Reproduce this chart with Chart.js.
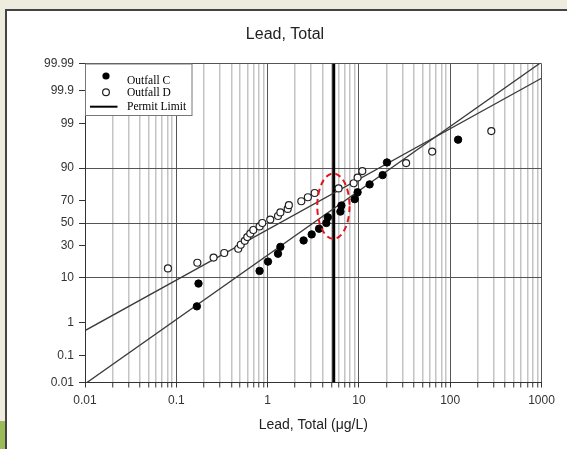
<!DOCTYPE html>
<html>
<head>
<meta charset="utf-8">
<script src="https://cdn.jsdelivr.net/npm/chart.js@4/dist/chart.umd.min.js"></script>
<style>
  html, body { margin: 0; padding: 0; background: #EEEBDF; width: 567px; height: 449px; overflow: hidden; }
  #panel { position: absolute; left: 5px; top: 9px; width: 562px; height: 440px; background: #fff;
           border-top: 2px solid #444; border-left: 2px solid #444; box-sizing: border-box; }
  #green { position: absolute; left: 0; top: 421px; width: 5px; height: 28px; background: #9BBB59; }
  #c { position: absolute; left: 0; top: 0; }
</style>
</head>
<body>
<div id="panel"></div>
<div id="green"></div>
<canvas id="c" width="567" height="449"></canvas>
<script>
// ---------------- data ----------------
const chartTitle = 'Lead, Total';
const xAxisTitle = 'Lead, Total (\u03bcg/L)';
const xDecades = [0.01, 0.1, 1, 10, 100, 1000];
const xTickLabels = ['0.01', '0.1', '1', '10', '100', '1000'];
const yTickValues = [0.01, 0.1, 1, 10, 30, 50, 70, 90, 99, 99.9, 99.99];
const yTickLabels = ['0.01', '0.1', '1', '10', '30', '50', '70', '90', '99', '99.9', '99.99'];
const yGridValues = [0.01, 10, 50, 90, 99.99];

const seriesLabels = ['Outfall C', 'Outfall D', 'Permit Limit'];
const outfallC_x = [0.168, 0.175, 0.817, 1.01, 1.30, 1.38, 2.48, 3.04, 3.66, 4.40, 4.57, 6.27, 6.43, 8.99, 9.68, 13.1, 18.2, 20.3, 122];
const outfallC_p = [2.6, 7.9, 13.2, 18.4, 23.7, 28.9, 34.2, 39.5, 44.7, 50.0, 55.3, 60.5, 65.8, 71.1, 76.3, 81.6, 86.8, 92.1, 97.4];
const outfallD_x = [0.081, 0.170, 0.256, 0.335, 0.477, 0.508, 0.562, 0.599, 0.646, 0.697, 0.817, 0.875, 1.07, 1.30, 1.38, 1.66, 1.71, 2.34, 2.76, 3.28, 5.99, 8.77, 9.68, 10.9, 32.9, 63.5, 282];
const outfallD_p = [14.5, 17.7, 21.0, 24.2, 27.4, 30.6, 33.9, 37.1, 40.3, 43.5, 46.8, 50.0, 53.2, 56.5, 59.7, 62.9, 66.1, 69.4, 72.6, 75.8, 79.0, 82.3, 85.5, 88.7, 91.9, 95.2, 98.4];
const fitC_x = [0.01, 1000];
const fitC_p = [0.0088, 99.9912];
const fitD_x = [0.01, 1000];
const fitD_p = [0.607, 99.963];
const permitLimit = 5.3;
const highlightX = [3.5, 7.9];
const highlightP = [35.6, 87.6];

// ------------- normal probability transform -------------
function probit(p) {
  const a = [-3.969683028665376e+01, 2.209460984245205e+02, -2.759285104469687e+02, 1.383577518672690e+02, -3.066479806614716e+01, 2.506628277459239e+00];
  const b = [-5.447609879822406e+01, 1.615858368580409e+02, -1.556989798598866e+02, 6.680131188771972e+01, -1.328068155288572e+01];
  const c = [-7.784894002430293e-03, -3.223964580411365e-01, -2.400758277161838e+00, -2.549732539343734e+00, 4.374664141464968e+00, 2.938163982698783e+00];
  const d = [7.784695709041462e-03, 3.224671290700398e-01, 2.445134137142996e+00, 3.754408661907416e+00];
  const pl = 0.02425, ph = 1 - pl;
  let q, r;
  if (p < pl) {
    q = Math.sqrt(-2 * Math.log(p));
    return (((((c[0]*q+c[1])*q+c[2])*q+c[3])*q+c[4])*q+c[5]) / ((((d[0]*q+d[1])*q+d[2])*q+d[3])*q+1);
  }
  if (p <= ph) {
    q = p - 0.5; r = q * q;
    return (((((a[0]*r+a[1])*r+a[2])*r+a[3])*r+a[4])*r+a[5])*q / (((((b[0]*r+b[1])*r+b[2])*r+b[3])*r+b[4])*r+1);
  }
  q = Math.sqrt(-2 * Math.log(1 - p));
  return -(((((c[0]*q+c[1])*q+c[2])*q+c[3])*q+c[4])*q+c[5]) / ((((d[0]*q+d[1])*q+d[2])*q+d[3])*q+1);
}
const z = pct => probit(pct / 100);
const zMin = z(yTickValues[0]);
const zMax = -zMin;

const pts = (xs, ps) => xs.map((x, i) => ({ x: x, y: z(ps[i]) }));

// x ticks: decades plus 2..9 multiples
const xTicks = [];
xDecades.forEach((d, i) => {
  xTicks.push({ value: d, major: true, label: xTickLabels[i] });
  if (i < xDecades.length - 1) {
    for (let m = 2; m <= 9; m++) xTicks.push({ value: +(m * d).toPrecision(6), major: false, label: '' });
  }
});

const FONT = '"Liberation Sans", Arial, sans-serif';

const decoPlugin = {
  id: 'deco',
  afterDatasetsDraw(chart) {
    const ctx = chart.ctx, xs = chart.scales.x, ys = chart.scales.y, ca = chart.chartArea;
    // highlight ellipse
    const x0 = xs.getPixelForValue(highlightX[0]), x1 = xs.getPixelForValue(highlightX[1]);
    const y0 = ys.getPixelForValue(z(highlightP[0])), y1 = ys.getPixelForValue(z(highlightP[1]));
    ctx.save();
    ctx.beginPath();
    ctx.ellipse((x0 + x1) / 2, (y0 + y1) / 2, Math.abs(x1 - x0) / 2, Math.abs(y1 - y0) / 2, 0, 0, Math.PI * 2);
    ctx.strokeStyle = '#e3141c';
    ctx.lineWidth = 2;
    ctx.setLineDash([6, 4]);
    ctx.stroke();
    ctx.restore();

    // legend box
    const L = ca.left, T = ca.top;
    ctx.save();
    ctx.fillStyle = '#fff';
    ctx.fillRect(L + 0.5, T + 0.5, 106.5, 51.5);
    ctx.strokeStyle = '#777';
    ctx.lineWidth = 1;
    ctx.strokeRect(L + 0.5, T + 0.5, 106.5, 51.5);
    // markers
    ctx.fillStyle = '#000';
    ctx.beginPath(); ctx.arc(L + 21, T + 12.5, 3.6, 0, Math.PI * 2); ctx.fill();
    ctx.beginPath(); ctx.arc(L + 21, T + 28.8, 3.4, 0, Math.PI * 2);
    ctx.fillStyle = '#fff'; ctx.fill();
    ctx.strokeStyle = '#222'; ctx.lineWidth = 1.2; ctx.stroke();
    ctx.beginPath(); ctx.moveTo(L + 5, T + 43.2); ctx.lineTo(L + 32.5, T + 43.2);
    ctx.strokeStyle = '#000'; ctx.lineWidth = 2; ctx.stroke();
    // texts
    ctx.fillStyle = '#000';
    ctx.font = '11.5px "Liberation Serif", "Times New Roman", serif';
    ctx.textAlign = 'left';
    ctx.textBaseline = 'middle';
    ctx.fillText(seriesLabels[0], L + 42, T + 17.5);
    ctx.fillText(seriesLabels[1], L + 42, T + 29.5);
    ctx.fillText(seriesLabels[2], L + 42, T + 43.3);
    ctx.restore();
  },
  afterDraw(chart) {
    const ctx = chart.ctx;
    ctx.save();
    ctx.fillStyle = '#222';
    ctx.font = '16px ' + FONT;
    ctx.textAlign = 'center';
    ctx.textBaseline = 'alphabetic';
    ctx.fillText(chartTitle, 285, 39);
    ctx.restore();
  }
};

const isDecade = v => Math.abs(Math.log10(v) - Math.round(Math.log10(v))) < 1e-9;

new Chart(document.getElementById('c'), {
  data: {
    datasets: [
      { type: 'scatter', label: seriesLabels[0], data: pts(outfallC_x, outfallC_p),
        pointRadius: 3.7, pointBackgroundColor: '#000', pointBorderColor: '#000', pointBorderWidth: 1 },
      { type: 'scatter', label: seriesLabels[1], data: pts(outfallD_x, outfallD_p),
        pointRadius: 3.5, pointBackgroundColor: '#fff', pointBorderColor: '#222', pointBorderWidth: 1.2 },
      { type: 'line', label: 'fitC', data: pts(fitC_x, fitC_p), borderColor: '#3a3a3a', borderWidth: 1.3, pointRadius: 0, fill: false },
      { type: 'line', label: 'fitD', data: pts(fitD_x, fitD_p), borderColor: '#3a3a3a', borderWidth: 1.3, pointRadius: 0, fill: false },
      { type: 'line', label: seriesLabels[2], data: [{ x: permitLimit, y: zMin }, { x: permitLimit, y: zMax }],
        borderColor: '#000', borderWidth: 3, pointRadius: 0, fill: false }
    ]
  },
  options: {
    responsive: false,
    animation: false,
    devicePixelRatio: 1,
    layout: { padding: { left: 0, right: 25.5, top: 63.5, bottom: 0 } },
    plugins: { legend: { display: false }, tooltip: { enabled: false }, title: { display: false } },
    scales: {
      x: {
        type: 'logarithmic', position: 'bottom', min: 0.01, max: 1000,
        afterFit: s => { s.height = 66.5; },
        afterBuildTicks: s => { s.ticks = xTicks.map(t => ({ value: t.value, major: t.major })); },
        ticks: {
          autoSkip: false, maxRotation: 0, minRotation: 0, padding: 6,
          color: '#333', font: { family: FONT, size: 12 },
          callback: (v) => { const t = xTicks.find(tt => Math.abs(tt.value - v) < 1e-12 * Math.max(1, v)); return t ? t.label : ''; }
        },
        grid: {
          drawTicks: true, tickLength: 5,
          color: c => (c.tick && isDecade(c.tick.value)) ? '#555' : '#c4c4c4',
          lineWidth: c => (c.tick && isDecade(c.tick.value)) ? 1 : 1.5,
          tickColor: '#333', tickWidth: 1
        },
        border: { display: true, color: '#333', width: 1 },
        title: { display: true, text: xAxisTitle, color: '#222', font: { family: FONT, size: 14 }, padding: { top: 0, bottom: 15.5 } }
      },
      y: {
        type: 'linear', position: 'left', min: zMin, max: zMax,
        afterFit: s => { s.width = 85; },
        afterBuildTicks: s => { s.ticks = yTickValues.map(p => ({ value: z(p) })); },
        ticks: {
          autoSkip: false, padding: 5, color: '#333', font: { family: FONT, size: 12 },
          callback: (v, i) => yTickLabels[i]
        },
        grid: {
          drawTicks: true, tickLength: 6,
          color: c => (c.tick && yGridValues.some(p => Math.abs(z(p) - c.tick.value) < 1e-6)) ? '#555' : 'rgba(0,0,0,0)',
          lineWidth: 1,
          tickColor: '#333', tickWidth: 1
        },
        border: { display: true, color: '#333', width: 1 }
      }
    }
  },
  plugins: [decoPlugin]
});
</script>
</body>
</html>
